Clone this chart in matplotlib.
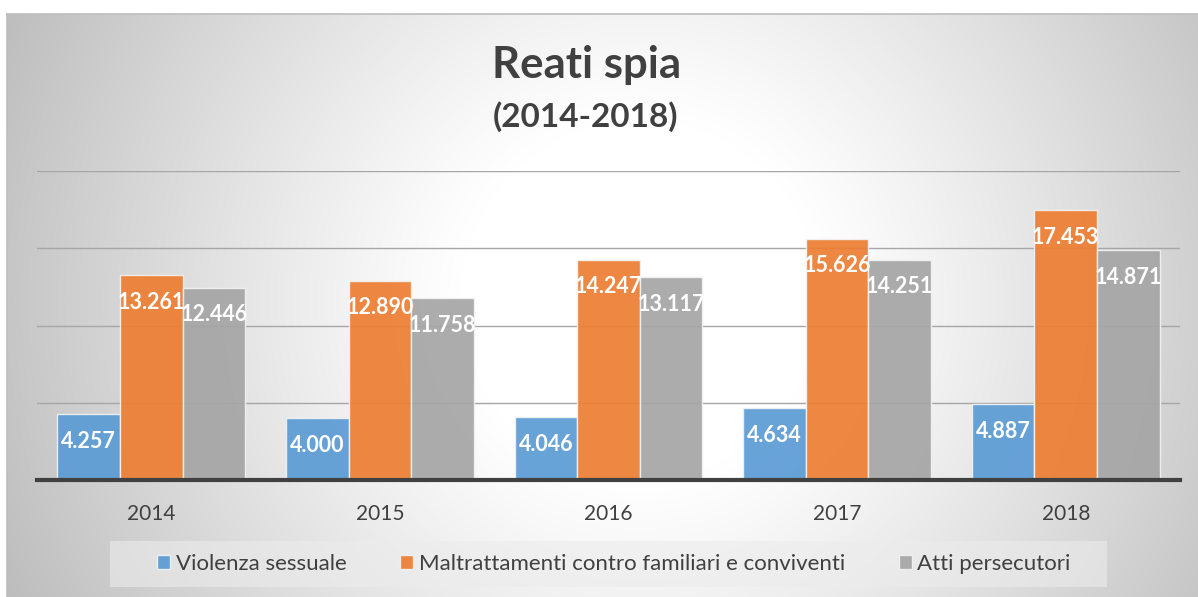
import numpy as np
import matplotlib.pyplot as plt
from matplotlib.patches import Rectangle

# data
anni = ['2014', '2015', '2016', '2017', '2018']
violenza = [4257, 4000, 4046, 4634, 4887]
maltrattamenti = [13261, 12890, 14247, 15626, 17453]
persecutori = [12446, 11758, 13117, 14251, 14871]
serie = ['Violenza sessuale', 'Maltrattamenti contro familiari e conviventi', 'Atti persecutori']
colori = ['#5b9bd5', '#ed7d31', '#a5a5a5']

plt.rcParams['font.family'] = ['Lato', 'DejaVu Sans']
W, H = 1198, 597
fig = plt.figure(figsize=(W / 100, H / 100), dpi=100)

# radial gradient background
bg = fig.add_axes([0, 0, 1, 1], zorder=-10)
yy, xx = np.mgrid[0:H, 0:W]
r = np.hypot(xx - 640, yy - 300)
v = 1 - 0.26 * np.clip((r - 180) / 520, 0, 1) ** 1.1
img = np.dstack([v, v, v])
img[:14, :, :] = 1.0  # white strip above the frame
img[:, :7, :] = 1.0
bg.imshow(img, extent=(0, W, H, 0), aspect='auto', interpolation='bilinear')
bg.plot([7, W], [14, 14], color='#bdbdbd', lw=1.2)
bg.plot([7, 7], [14, H], color='#bdbdbd', lw=1.2)
bg.add_patch(Rectangle((110, 541), 997, 46, facecolor='#ececec', alpha=0.6, edgecolor='none'))
bg.set_xlim(0, W)
bg.set_ylim(H, 0)
bg.axis('off')

ax = fig.add_axes([37 / W, 1 - 480 / H, (1180 - 37) / W, (480 - 171) / H])
ax.patch.set_alpha(0)
x = np.arange(len(anni))
w = 0.274
for i, (vals, col, nome) in enumerate(zip([violenza, maltrattamenti, persecutori], colori, serie)):
    bars = ax.bar(x + (i - 1) * w, vals, w, color=col, alpha=0.92, edgecolor='#f2f2f2',
                  linewidth=1, label=nome, zorder=2)
    for b, val in zip(bars, vals):
        ax.annotate(f'{val:,}'.replace(',', '.'), (b.get_x() + b.get_width() / 2, val),
                    xytext=(0, -19.5), textcoords='offset points', ha='center', va='center',
                    color='white', fontweight='bold', fontsize=15.5, zorder=3)

ax.set_xlim(-0.5, len(anni) - 0.5)
ax.set_ylim(0, 20000)
ax.set_yticks([5000, 10000, 15000, 20000])
ax.yaxis.grid(True, color='#a6a6a6', lw=1, zorder=0)
ax.set_axisbelow(True)
ax.tick_params(axis='y', left=False, labelleft=False)
ax.tick_params(axis='x', bottom=False, labelsize=15, labelcolor='#404040', pad=14)
ax.set_xticks(x)
ax.set_xticklabels(anni)
for s in ['top', 'right', 'left']:
    ax.spines[s].set_visible(False)
ax.spines['bottom'].set_color('#404040')
ax.spines['bottom'].set_linewidth(3)
ax.spines['bottom'].set_zorder(4)

fig.text(587 / W, 1 - 65 / H, 'Reati spia', ha='center', va='center', fontsize=31.5,
         fontweight='bold', color='#404040')
fig.text(586 / W, 1 - 117 / H, '(2014-2018)', ha='center', va='center', fontsize=24,
         fontweight='bold', color='#404040')

fig.legend(loc='center', bbox_to_anchor=(614 / W, 1 - 564 / H), ncol=3, frameon=False,
           fontsize=16, handlelength=0.6, handleheight=0.6, handletextpad=0.25,
           columnspacing=2.4, labelcolor='#404040')

fig.savefig('out.png', dpi=100)
